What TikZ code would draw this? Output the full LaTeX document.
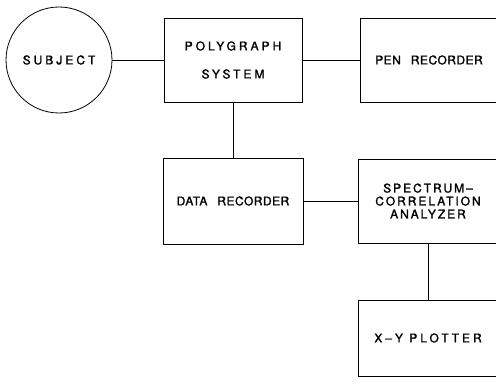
\documentclass[tikz,border=0pt]{standalone}
\usepackage{fontspec}
\setmainfont{TeX Gyre Heros}
\newfontfamily\lsA[LetterSpace=4,FakeBold=1.5]{TeX Gyre Heros}
\newfontfamily\lsB[LetterSpace=16.5,FakeBold=1.5]{TeX Gyre Heros}
\newfontfamily\lsC[LetterSpace=25,FakeBold=1.5]{TeX Gyre Heros}
\begin{document}
\begin{tikzpicture}[x=1pt,y=1pt,
  blk/.style={draw, line width=0.8pt, rectangle, inner sep=0pt, font=\fontsize{12}{13}\selectfont, align=center},
  conn/.style={line width=0.8pt}]
\useasboundingbox (0,0) rectangle (496,386);
\clip (0,0) rectangle (496,386);
\node[blk, circle, minimum size=106pt] (subj) at (59,326) {\lsC SUBJECT};
\node[blk, minimum width=138pt, minimum height=84pt] (poly) at (233,326) {\lsC POLYGRAPH\\[15pt]\lsC SYSTEM};
\node[blk, minimum width=138pt, minimum height=84pt] (pen) at (429,326) {\lsA PEN\hspace{10pt}RECORDER};
\node[blk, minimum width=140pt, minimum height=86pt] (data) at (233,185) {\lsA DATA\hspace{10pt}RECORDER};
\node[blk, minimum width=140pt, minimum height=84pt] (spec) at (428,185) {\lsB SPECTRUM–\\\lsB CORRELATION\\\lsB ANALYZER};
\node[blk, minimum width=140pt, minimum height=76pt] (xy) at (428,48) {\lsC X–Y PLOTTER};
\draw[conn] (subj) -- (poly);
\draw[conn] (poly) -- (pen);
\draw[conn] (poly) -- (data);
\draw[conn] (data) -- (spec);
\draw[conn] (spec) -- (xy);
\end{tikzpicture}
\end{document}
